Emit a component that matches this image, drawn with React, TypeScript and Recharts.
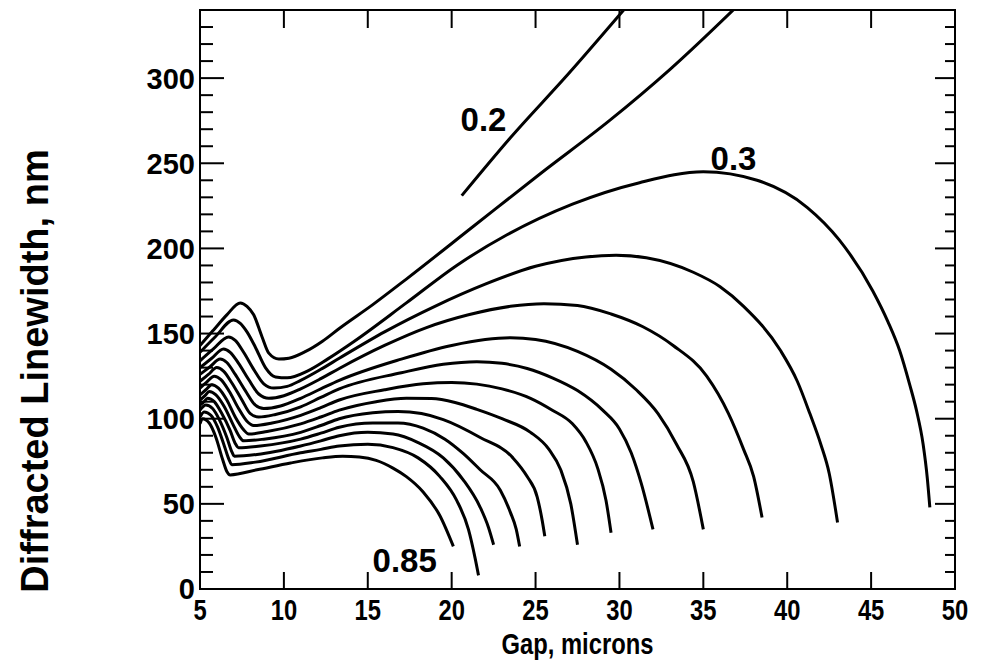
import React from 'react';
import { LineChart, Line, XAxis, YAxis, ReferenceDot, ReferenceArea } from 'recharts';

// ---- axis ticks ----
const xTicks = [5, 10, 15, 20, 25, 30, 35, 40, 45, 50];
const yTicks = [0, 10, 20, 30, 40, 50, 60, 70, 80, 90, 100, 110, 120, 130, 140, 150, 160, 170, 180, 190, 200, 210, 220, 230, 240, 250, 260, 270, 280, 290, 300, 310, 320, 330];
const yLabelled = [0, 50, 100, 150, 200, 250, 300];

// ---- curves: [gap (microns), diffracted linewidth (nm)] ----
const c020 = [[20.6, 231], [23.5, 265], [27, 303], [30.6, 344]];
const c025 = [[5, 143], [5.8, 152], [6.6, 161], [7.4, 168], [7.8, 166], [8.2, 161], [8.7, 148], [9.1, 138.5], [9.7, 135], [10.3, 135.5], [11.3, 139.5], [12.3, 145.5], [13.3, 153], [15.3, 167], [17.3, 182], [21.3, 213], [25.3, 244], [29.4, 275], [33, 305], [37.2, 344]];
const c030 = [[5, 139], [5.9, 148], [7.0, 158], [7.4, 156], [7.8, 151], [8.3, 142], [8.9, 130], [9.5, 124.5], [10.2, 124], [11.4, 128], [12.6, 135], [14.2, 145.5], [17.3, 168], [20.3, 190], [23.3, 208], [27.2, 226], [31.2, 238.6], [35, 245], [38.2, 240], [41.2, 224], [43.1, 205], [45.1, 175], [46.0, 157], [46.7, 140], [47.3, 120], [47.7, 105], [48.1, 85], [48.35, 65], [48.5, 48]];
const c035 = [[5, 134], [5.8, 141], [6.7, 148], [7.1, 146], [7.6, 139], [8.2, 129], [8.8, 120.5], [9.4, 118], [10.2, 119], [11, 122.5], [12.2, 129], [13.3, 135.5], [16, 151], [19, 166], [22, 179], [25, 189.5], [28, 195], [29.8, 196], [31.6, 194.5], [34.4, 186], [36, 177.5], [37.4, 166], [39.6, 140], [40.6, 122], [41.35, 103], [42.0, 85], [42.5, 68], [43.0, 39]];
const c040 = [[5, 130], [5.7, 135.5], [6.4, 141], [6.8, 139], [7.3, 132.5], [7.9, 123], [8.5, 114.5], [9.1, 112], [10, 113.5], [11, 117.5], [12.2, 123.5], [13.3, 129.5], [16, 143], [18.5, 153.5], [21, 161], [23.5, 166], [25.5, 167.5], [27.5, 166.5], [29.5, 161.5], [31.4, 154], [33.2, 143], [35.2, 125], [36.5, 103], [37.4, 82], [38.0, 66], [38.5, 42]];
const c045 = [[5, 126], [5.6, 130.5], [6.2, 135], [6.6, 133], [7.1, 126], [7.7, 116.5], [8.3, 108], [8.8, 106], [9.8, 107.5], [11, 112], [12.2, 117.5], [13.3, 122.5], [17, 135], [20, 143], [22, 146.5], [23.5, 147.5], [25, 146.5], [27.5, 139.5], [29.5, 129], [31, 117], [32.3, 103], [33.4, 85], [34.4, 63], [35.0, 35]];
const c050 = [[5, 122], [5.5, 126], [6.0, 130], [6.4, 128], [6.9, 121], [7.5, 111], [8.0, 103], [8.5, 101], [9.5, 102.5], [11, 107], [12.2, 112.5], [13.3, 117.5], [17, 127], [19.5, 132], [21.5, 133.5], [23, 132.5], [24.5, 129.5], [26, 124], [27.5, 116.5], [29, 105], [30, 94], [30.7, 80], [31.3, 62], [32.0, 35]];
const c055 = [[5, 118], [5.4, 121.5], [5.85, 125], [6.25, 123], [6.75, 116], [7.3, 106], [7.8, 98.5], [8.2, 96], [9.3, 97.5], [11, 102], [12.2, 106.5], [13.3, 111], [16, 117], [18.3, 120.5], [20, 121.2], [21.5, 120.3], [23, 117.5], [24.7, 112], [26, 105], [27.2, 97], [28, 86.5], [28.7, 71], [29.2, 52], [29.5, 33]];
const c060 = [[5, 114], [5.35, 117], [5.7, 120], [6.1, 118], [6.6, 111], [7.1, 101], [7.6, 93.5], [7.9, 91], [9, 92.5], [11, 97], [12.2, 101], [13.3, 105], [15.5, 110], [17.3, 112], [18.8, 111.8], [20.2, 109.5], [21.5, 105.5], [23, 100], [24.7, 92], [25.8, 82], [26.5, 70], [27.1, 50], [27.5, 26]];
const c065 = [[5, 111], [5.3, 113.5], [5.55, 116], [5.95, 114], [6.45, 107], [6.95, 97], [7.35, 89.5], [7.6, 87], [8.8, 88], [11, 92], [12.2, 96], [13.3, 100], [15.3, 103.5], [16.8, 104.3], [18.2, 103], [19.5, 99.5], [21.7, 89], [23.65, 77], [24.5, 66], [25.1, 54], [25.4, 40], [25.55, 31]];
const c070 = [[5, 108], [5.25, 110], [5.45, 112], [5.85, 110], [6.3, 103], [6.8, 93], [7.1, 85.5], [7.3, 83], [8.6, 84], [11, 88], [12.2, 91.5], [13.3, 95], [15.3, 97.5], [16.8, 97.5], [18.3, 94.5], [19.6, 88], [20.7, 79.5], [21.7, 70], [22.9, 58], [23.5, 45], [23.85, 35], [24.05, 25]];
const c075 = [[5, 105], [5.35, 108], [5.75, 106], [6.15, 99.5], [6.6, 89], [6.9, 80.5], [7.05, 78], [8.4, 79], [11, 84], [12.2, 87], [13.3, 90], [15, 92], [16.5, 91], [18, 86], [19.5, 77], [20.7, 64], [21.7, 48], [22.2, 36], [22.5, 26]];
const c080 = [[5, 101], [5.25, 104], [5.65, 102], [6.05, 95], [6.45, 84], [6.75, 75.5], [6.9, 73], [8.3, 74.5], [11, 80], [12.2, 82], [13.3, 84], [15, 85], [16.5, 83], [18, 77], [19.3, 66], [20.3, 52], [21.0, 35], [21.4, 18], [21.6, 8]];
const c085 = [[5, 97], [5.15, 100], [5.55, 97.5], [5.95, 89], [6.35, 76], [6.6, 69], [6.8, 67], [8.4, 70], [10.4, 74], [12.3, 77], [13.5, 78], [14.5, 77.5], [15.5, 75.5], [16.5, 71], [17.3, 66], [18.3, 57], [19.3, 43], [20.1, 25]];

const curveNames = ['0.2', '0.25', '0.3', '0.35', '0.4', '0.45', '0.5', '0.55', '0.6', '0.65', '0.7', '0.75', '0.8', '0.85'];
const curvePoints = [c020, c025, c030, c035, c040, c045, c050, c055, c060, c065, c070, c075, c080, c085];

// ---- curve annotations ----
const annoText = ['0.2', '0.3', '0.85'];
const annoGap = [21.9, 36.8, 17.2];
const annoLw = [276, 253, 17];

const FONT = '"Liberation Sans", Arial, Helvetica, sans-serif';

// chart geometry
const CHART_W = 977;
const CHART_H = 656;
const MARGIN = { top: 2, right: 30, bottom: 0, left: 0 };
const Y_AXIS_W = 192;
const X_AXIS_H = 75;
const PLOT_W = CHART_W - MARGIN.left - MARGIN.right - Y_AXIS_W;
const PLOT_H = CHART_H - MARGIN.top - MARGIN.bottom - X_AXIS_H;

const BottomTick = (props: any) => {
  const { x, y, payload } = props;
  return (
    <g>
      <line x1={x} y1={y} x2={x} y2={y - 17} stroke="#000" strokeWidth={2} />
      <line x1={x} y1={y - PLOT_H} x2={x} y2={y - PLOT_H + 18} stroke="#000" strokeWidth={2} />
      <text
        transform={`translate(${x}, ${y + 31}) scale(0.82, 1)`}
        textAnchor="middle"
        fontFamily={FONT}
        fontWeight="bold"
        fontSize={29}
        fill="#000"
      >
        {payload.value}
      </text>
    </g>
  );
};

const LeftTick = (props: any) => {
  const { x, y, payload } = props;
  const major = yLabelled.includes(payload.value);
  return (
    <g>
      <line x1={x} y1={y} x2={x + (major ? 24 : 13)} y2={y} stroke="#000" strokeWidth={2} />
      <line x1={x + PLOT_W} y1={y} x2={x + PLOT_W - (major ? 20 : 10)} y2={y} stroke="#000" strokeWidth={2} />
      {major && (
        <text x={x - 5} y={y} dy="0.36em" textAnchor="end" fontFamily={FONT} fontWeight="bold" fontSize={29} fill="#000">
          {payload.value}
        </text>
      )}
    </g>
  );
};

const XTitle = (props: any) => {
  const vb = props.viewBox || { x: Y_AXIS_W, y: MARGIN.top + PLOT_H, width: PLOT_W, height: X_AXIS_H };
  return (
    <text
      transform={`translate(${vb.x + vb.width / 2}, ${vb.y + 65}) scale(0.82, 1)`}
      textAnchor="middle"
      fontFamily={FONT}
      fontWeight="bold"
      fontSize={29}
      fill="#000"
    >
      Gap, microns
    </text>
  );
};

const YTitle = (props: any) => {
  const vb = props.viewBox || { x: 0, y: MARGIN.top, width: Y_AXIS_W, height: PLOT_H };
  const cx = vb.x + 40;
  const cy = vb.y + 361;
  return (
    <text x={cx} y={cy} transform={`rotate(-90, ${cx}, ${cy})`} textAnchor="middle" fontFamily={FONT} fontWeight="bold" fontSize={38} fill="#000">
      Diffracted Linewidth, nm
    </text>
  );
};

export default function App() {
  const axisLine = { stroke: '#000', strokeWidth: 2 };
  return (
    <div style={{ width: CHART_W, height: CHART_H, background: '#fff' }}>
      <LineChart width={CHART_W} height={CHART_H} margin={MARGIN}>
        <XAxis
          xAxisId="b"
          dataKey="gap"
          type="number"
          domain={[5, 50]}
          ticks={xTicks}
          interval={0}
          allowDataOverflow
          height={X_AXIS_H}
          tickSize={0}
          tickMargin={0}
          tickLine={false}
          axisLine={axisLine}
          tick={<BottomTick />}
          label={<XTitle />}
        />
        <YAxis
          yAxisId="l"
          type="number"
          domain={[0, 340]}
          ticks={yTicks}
          interval={0}
          allowDataOverflow
          width={Y_AXIS_W}
          tickSize={0}
          tickMargin={0}
          tickLine={false}
          axisLine={axisLine}
          tick={<LeftTick />}
          label={<YTitle />}
        />
        <ReferenceArea xAxisId="b" yAxisId="l" x1={5} x2={50} y1={0} y2={340} fill="none" fillOpacity={0} stroke="#000" strokeWidth={2} />
        {curvePoints.map((pts, i) => (
          <Line
            key={curveNames[i]}
            xAxisId="b"
            yAxisId="l"
            name={curveNames[i]}
            data={pts.map(([gap, lw]) => ({ gap, lw }))}
            dataKey="lw"
            type="monotone"
            stroke="#000"
            strokeWidth={3}
            dot={false}
            activeDot={false}
            isAnimationActive={false}
          />
        ))}
        {annoText.map((t, i) => (
          <ReferenceDot
            key={t}
            xAxisId="b"
            yAxisId="l"
            x={annoGap[i]}
            y={annoLw[i]}
            r={0}
            fill="none"
            stroke="none"
            label={{ value: t, position: 'center', fontFamily: FONT, fontWeight: 'bold', fontSize: 33, fill: '#000' }}
          />
        ))}
      </LineChart>
    </div>
  );
}
